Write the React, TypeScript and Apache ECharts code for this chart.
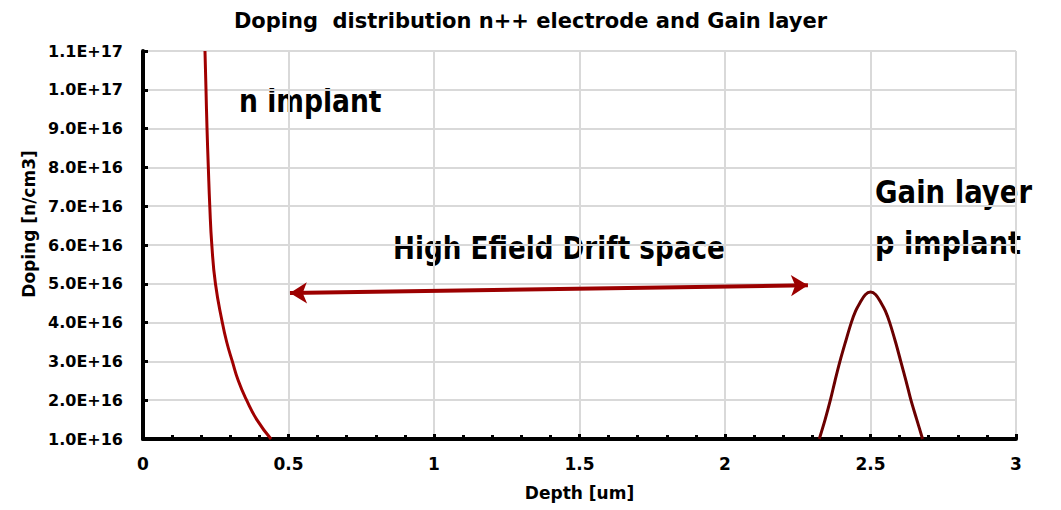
import React, { useEffect, useRef } from "react";
import * as echarts from "echarts";

// n++ electrode implant profile (depth in um, doping in n/cm3)
const nImplantDepth = [0.213, 0.2165, 0.22, 0.2245, 0.2295, 0.2365, 0.249, 0.2726, 0.2876, 0.307, 0.3276, 0.356, 0.391, 0.44];
const nImplantDoping = [11.0e16, 10.0e16, 9.0e16, 8.0e16, 7.0e16, 6.0e16, 5.0e16, 4.0e16, 3.5e16, 3.0e16, 2.5e16, 2.0e16, 1.5e16, 1.0e16];

// Gain layer p implant profile
const gainDepth = [
  2.324, 2.344, 2.362, 2.378, 2.395, 2.414, 2.434, 2.449, 2.463, 2.482, 2.5,
  2.518, 2.537, 2.551, 2.566, 2.586, 2.604, 2.622, 2.639, 2.659, 2.679,
];
const gainDoping = [
  1.0e16, 1.5e16, 2.0e16, 2.5e16, 3.0e16, 3.5e16, 4.0e16, 4.3e16, 4.5e16, 4.72e16, 4.79e16,
  4.72e16, 4.5e16, 4.3e16, 4.0e16, 3.5e16, 3.0e16, 2.5e16, 2.0e16, 1.5e16, 1.0e16,
];

// Drift-space arrow end points [depth, doping]
const driftArrowStart = [0.505, 4.76e16];
const driftArrowEnd = [2.285, 4.96e16];

const depthMin = 0;
const depthMax = 3;
const depthStep = 0.5;
const dopingMin = 1.0e16;
const dopingMax = 1.1e17;
const dopingStep = 1.0e16;

const titleText = "Doping  distribution n++ electrode and Gain layer";
const xName = "Depth [um]";
const yName = "Doping [n/cm3]";
const noteN = "n implant";
const noteDrift = "High Efield Drift space";
const noteGain = "Gain layer";
const noteP = "p implant";

const FONT = '"DejaVu Sans", sans-serif';

const zip = (xs: number[], ys: number[]) => xs.map((x, i) => [x, ys[i]]);

function note(text: string, x: number, y: number, scaleX: number) {
  return {
    type: "text",
    x,
    y,
    scaleX,
    silent: true,
    style: {
      text,
      fill: "#000",
      fontSize: 32,
      fontWeight: "bold",
      fontFamily: FONT,
      align: "left",
      verticalAlign: "middle",
    },
  };
}

export default function App() {
  const ref = useRef<HTMLDivElement>(null);

  useEffect(() => {
    if (!ref.current) return;
    const chart = echarts.init(ref.current, null, { renderer: "svg" });
    chart.setOption({
      animation: false,
      backgroundColor: "#fff",
      title: {
        text: titleText,
        left: "center",
        top: 5,
        textStyle: { fontFamily: FONT, fontWeight: "bold", fontSize: 21, color: "#000" },
      },
      grid: { left: 143, right: 45, top: 51, bottom: 71, containLabel: false },
      xAxis: {
        type: "value",
        min: depthMin,
        max: depthMax,
        interval: depthStep,
        name: xName,
        nameLocation: "middle",
        nameGap: 45,
        nameTextStyle: { fontFamily: FONT, fontWeight: "bold", fontSize: 17, color: "#000" },
        axisLine: { show: true, lineStyle: { color: "#000", width: 4 } },
        axisTick: { show: true, inside: true, length: 5, lineStyle: { color: "#000", width: 3 } },
        minorTick: { show: true, splitNumber: 5, length: 4, lineStyle: { color: "#000", width: 3 } },
        axisLabel: { margin: 16, fontFamily: FONT, fontWeight: "bold", fontSize: 17, color: "#000" },
        splitLine: { show: true, lineStyle: { color: "#d9d9d9", width: 2 } },
      },
      yAxis: {
        type: "value",
        min: dopingMin,
        max: dopingMax,
        interval: dopingStep,
        name: yName,
        nameLocation: "middle",
        nameGap: 100,
        nameTextStyle: {
          fontFamily: FONT,
          fontWeight: "bold",
          fontSize: 17,
          color: "#000",
          padding: [0, 0, 0, 42],
        },
        axisLine: { show: true, lineStyle: { color: "#000", width: 4 } },
        axisTick: { show: true, inside: true, length: 5, lineStyle: { color: "#000", width: 3 } },
        axisLabel: {
          margin: 20,
          fontFamily: FONT,
          fontWeight: "bold",
          fontSize: 16,
          color: "#000",
          formatter: (v: number) => v.toExponential(1).toUpperCase(),
        },
        splitLine: { show: true, lineStyle: { color: "#d9d9d9", width: 2 } },
      },
      series: [
        {
          name: "n implant",
          type: "line",
          data: zip(nImplantDepth, nImplantDoping),
          smooth: 0.5,
          showSymbol: false,
          symbol: "none",
          lineStyle: { color: "#a00000", width: 3 },
          z: 3,
          markLine: {
            silent: true,
            symbol: ["arrow", "arrow"],
            symbolSize: [16, 17],
            label: { show: false },
            lineStyle: { color: "#9c0000", width: 4, type: "solid" },
            data: [[{ coord: driftArrowStart }, { coord: driftArrowEnd }]],
          },
        },
        {
          name: "Gain layer",
          type: "line",
          data: zip(gainDepth, gainDoping),
          smooth: 0.35,
          showSymbol: false,
          symbol: "none",
          lineStyle: { color: "#6b0000", width: 3 },
          z: 3,
        },
      ],
      graphic: [
        note(noteN, 239, 101, 0.83),
        note(noteDrift, 393, 248, 0.82),
        note(noteGain, 875, 192, 0.86),
        note(noteP, 875, 243, 0.85),
      ],
    });
    return () => chart.dispose();
  }, []);

  return (
    <div
      ref={ref}
      style={{ position: "fixed", left: 0, top: 0, width: 1061, height: 510, background: "#fff" }}
    />
  );
}
